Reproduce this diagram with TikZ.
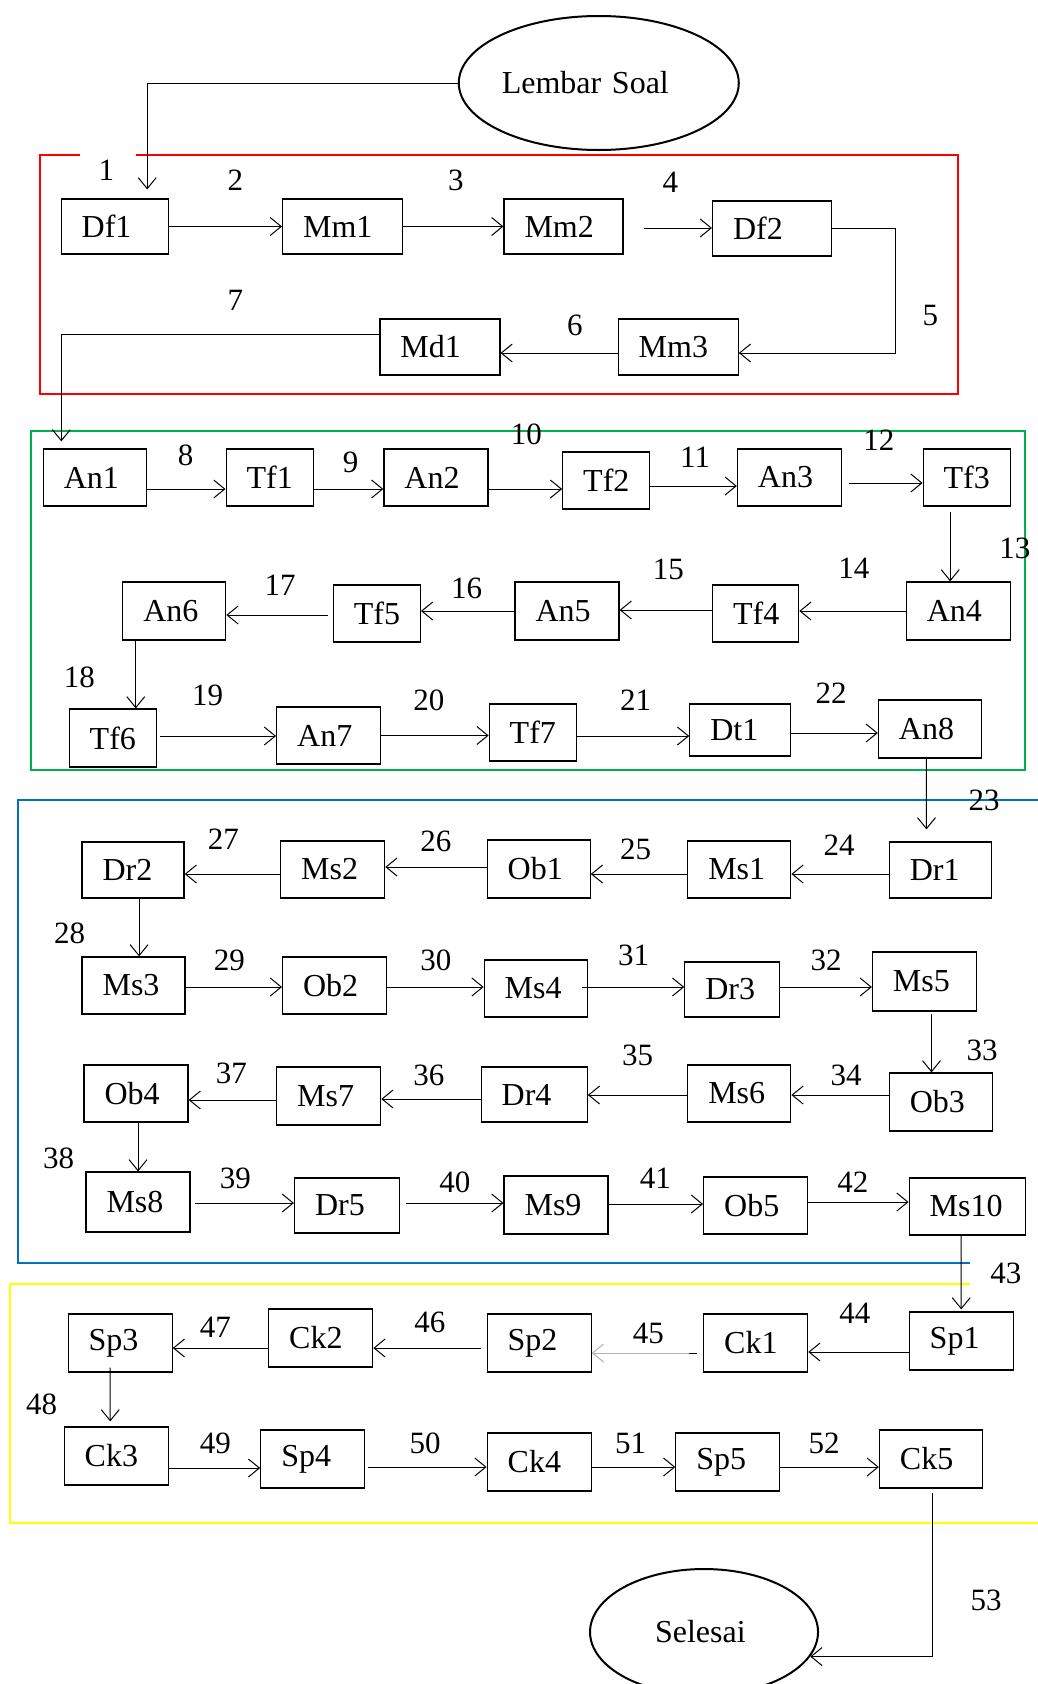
\documentclass[tikz,border=0pt]{standalone}
\usepackage{fontspec}
\setmainfont{Liberation Serif}
\usetikzlibrary{arrows.meta,shapes.geometric,calc}
\definecolor{framered}{RGB}{255,0,0}
\definecolor{framegreen}{RGB}{0,176,80}
\definecolor{frameblue}{RGB}{0,112,192}
\definecolor{frameyellow}{RGB}{255,255,0}
\begin{document}
\begin{tikzpicture}[x=0.993pt,y=-1pt,
  bx/.style={draw, line width=1.2pt, inner ysep=0pt, inner xsep=20.5pt, align=left,
             font=\fontsize{32}{34}\selectfont},
  bw/.style={minimum width=#1pt, text width=\the\dimexpr#1pt-41pt\relax},
  lb/.style={inner sep=0pt, font=\fontsize{31}{33}\selectfont},
  arr/.style={line width=1pt, -{Straight Barb[length=11pt,width=18pt,line width=1pt]}},
  garr/.style={arr, draw=gray!60},
  ell/.style={draw, ellipse, line width=2pt, inner sep=0pt, align=left,
              font=\fontsize{32}{34}\selectfont},
  frame/.style={line width=2pt}
]
\useasboundingbox (0pt,0pt) rectangle (1038pt,-1684pt);

% frames
\draw[frame, framered] (81,155) -- (40,155) -- (40,394) -- (965,394) -- (965,155) -- (137,155);
\draw[frame, framegreen] (31,431) rectangle (1032,770);
\draw[frame, frameblue] (1055,800) -- (18,800) -- (18,1263) -- (977,1263);
\draw[frame, frameyellow] (977,1284) -- (10,1284) -- (10,1523) -- (1055,1523);

% ellipses
\node[ell, minimum width=280pt, minimum height=134pt, text width=194pt] (LS) at (603,83) {Lembar Soal};
\node[ell, minimum width=228pt, minimum height=126pt, text width=98pt] (Sel) at (709,1632) {Selesai};

% red group
\node[bx, bw=107, minimum height=55pt] (Df1) at (115.5,226.5) {Df1};
\node[bx, bw=120, minimum height=55pt] (Mm1) at (345,226.5) {Mm1};
\node[bx, bw=119, minimum height=55pt] (Mm2) at (567.5,226.5) {Mm2};
\node[bx, bw=119, minimum height=55pt] (Df2) at (777.5,228.5) {Df2};
\node[bx, bw=120, minimum height=56pt] (Mm3) at (683,347) {Mm3};
\node[bx, bw=120, minimum height=56pt] (Md1) at (443,347) {Md1};

% green group
\node[bx, bw=103, minimum height=57pt] (An1) at (95.5,477.5) {An1};
\node[bx, bw=87, minimum height=57pt] (Tf1) at (271.5,477.5) {Tf1};
\node[bx, bw=104, minimum height=57pt] (An2) at (439,477.5) {An2};
\node[bx, bw=87, minimum height=57pt] (Tf2) at (610.5,480.5) {Tf2};
\node[bx, bw=104, minimum height=57pt] (An3) at (795,477.5) {An3};
\node[bx, bw=87, minimum height=57pt] (Tf3) at (973.5,477.5) {Tf3};
\node[bx, bw=104, minimum height=58pt] (An4) at (965,611) {An4};
\node[bx, bw=86, minimum height=57pt] (Tf4) at (761,613.5) {Tf4};
\node[bx, bw=104, minimum height=58pt] (An5) at (571,611) {An5};
\node[bx, bw=87, minimum height=57pt] (Tf5) at (379.5,613.5) {Tf5};
\node[bx, bw=103, minimum height=58pt] (An6) at (175.5,611) {An6};
\node[bx, bw=87, minimum height=58pt] (Tf6) at (113.5,738) {Tf6};
\node[bx, bw=104, minimum height=57pt] (An7) at (331,735.5) {An7};
\node[bx, bw=87, minimum height=57pt] (Tf7) at (536.5,732.5) {Tf7};
\node[bx, bw=101, minimum height=52pt] (Dt1) at (745.5,730) {Dt1};
\node[bx, bw=103, minimum height=58pt] (An8) at (936.5,729) {An8};

% blue group
\node[bx, bw=102, minimum height=56pt] (Dr1) at (947,870) {Dr1};
\node[bx, bw=103, minimum height=57pt] (Ms1) at (744.5,869.5) {Ms1};
\node[bx, bw=103, minimum height=58pt] (Ob1) at (542.5,869) {Ob1};
\node[bx, bw=104, minimum height=57pt] (Ms2) at (335,869.5) {Ms2};
\node[bx, bw=102, minimum height=56pt] (Dr2) at (134,870) {Dr2};
\node[bx, bw=103, minimum height=57pt] (Ms3) at (134.5,985.5) {Ms3};
\node[bx, bw=104, minimum height=57pt] (Ob2) at (337,985.5) {Ob2};
\node[bx, bw=103, minimum height=57pt] (Ms4) at (539.5,988.5) {Ms4};
\node[bx, bw=95, minimum height=55pt] (Dr3) at (737.5,989.5) {Dr3};
\node[bx, bw=104, minimum height=59pt] (Ms5) at (931,981.5) {Ms5};
\node[bx, bw=103, minimum height=58pt] (Ob3) at (947.5,1102) {Ob3};
\node[bx, bw=103, minimum height=57pt] (Ms6) at (744.5,1093.5) {Ms6};
\node[bx, bw=106, minimum height=55pt] (Dr4) at (538,1094.5) {Dr4};
\node[bx, bw=104, minimum height=58pt] (Ms7) at (331,1096) {Ms7};
\node[bx, bw=104, minimum height=57pt] (Ob4) at (137,1093.5) {Ob4};
\node[bx, bw=104, minimum height=60pt] (Ms8) at (139,1202) {Ms8};
\node[bx, bw=105, minimum height=55pt] (Dr5) at (349.5,1205.5) {Dr5};
\node[bx, bw=104, minimum height=58pt] (Ms9) at (560,1205) {Ms9};
\node[bx, bw=104, minimum height=57pt] (Ob5) at (761,1205.5) {Ob5};
\node[bx, bw=116, minimum height=57pt] (Ms10) at (974,1206.5) {Ms10};

% yellow group
\node[bx, bw=104, minimum height=58pt] (Sp1) at (968,1341) {Sp1};
\node[bx, bw=104, minimum height=58pt] (Ck1) at (761,1343) {Ck1};
\node[bx, bw=104, minimum height=58pt] (Sp2) at (543,1343) {Sp2};
\node[bx, bw=104, minimum height=58pt] (Ck2) at (323,1338) {Ck2};
\node[bx, bw=104, minimum height=58pt] (Sp3) at (121,1343) {Sp3};
\node[bx, bw=104, minimum height=58pt] (Ck3) at (117,1456) {Ck3};
\node[bx, bw=104, minimum height=58pt] (Sp4) at (315,1459) {Sp4};
\node[bx, bw=104, minimum height=58pt] (Ck4) at (543,1462) {Ck4};
\node[bx, bw=104, minimum height=58pt] (Sp5) at (733,1462) {Sp5};
\node[bx, bw=103, minimum height=58pt] (Ck5) at (937.5,1459) {Ck5};

% labels
\node[lb] (n1) at (107,170) {1};
\node[lb] (n2) at (237,180) {2};
\node[lb] (n3) at (459,180) {3};
\node[lb] (n4) at (675,182) {4};
\node[lb] (n5) at (937,315) {5};
\node[lb] (n6) at (579,325) {6};
\node[lb] (n7) at (237,300) {7};
\node[lb] (n8) at (187,455) {8};
\node[lb] (n9) at (353,462) {9};
\node[lb] (n10) at (530,434) {10};
\node[lb] (n11) at (700,457) {11};
\node[lb] (n12) at (885,440) {12};
\node[lb] (n13) at (1022,548) {13};
\node[lb] (n14) at (860,568) {14};
\node[lb] (n15) at (673,569) {15};
\node[lb] (n16) at (470,588) {16};
\node[lb] (n17) at (282,585) {17};
\node[lb] (n18) at (80,677) {18};
\node[lb] (n19) at (209,695) {19};
\node[lb] (n20) at (432,700) {20};
\node[lb] (n21) at (640,700) {21};
\node[lb] (n22) at (837,693) {22};
\node[lb] (n23) at (991,800) {23};
\node[lb] (n24) at (845,845) {24};
\node[lb] (n25) at (640,849) {25};
\node[lb] (n26) at (439,841) {26};
\node[lb] (n27) at (225,839) {27};
\node[lb] (n28) at (70,933) {28};
\node[lb] (n29) at (231,960) {29};
\node[lb] (n30) at (439,960) {30};
\node[lb] (n31) at (638,955) {31};
\node[lb] (n32) at (832,960) {32};
\node[lb] (n33) at (989,1050) {33};
\node[lb] (n34) at (852,1075) {34};
\node[lb] (n35) at (642,1055) {35};
\node[lb] (n36) at (432,1075) {36};
\node[lb] (n37) at (233,1073) {37};
\node[lb] (n38) at (59,1158) {38};
\node[lb] (n39) at (237,1178) {39};
\node[lb] (n40) at (458,1182) {40};
\node[lb] (n41) at (660,1178) {41};
\node[lb] (n42) at (859,1182) {42};
\node[lb] (n43) at (1013,1273) {43};
\node[lb] (n44) at (861,1313) {44};
\node[lb] (n45) at (653,1333) {45};
\node[lb] (n46) at (433,1322) {46};
\node[lb] (n47) at (217,1327) {47};
\node[lb] (n48) at (42,1404) {48};
\node[lb] (n49) at (217,1443) {49};
\node[lb] (n50) at (428,1443) {50};
\node[lb] (n51) at (635,1443) {51};
\node[lb] (n52) at (830,1443) {52};
\node[lb] (n53) at (993,1600) {53};

% connectors: red
\draw[arr] (LS.west) -| ([xshift=32.5pt,yshift=9pt]Df1.north);
\draw[arr] (Df1.east) -- (Df1.east -| Mm1.west);
\draw[arr] (Mm1.east) -- (Mm1.east -| Mm2.west);
\draw[arr] ([xshift=20pt,yshift=-1.5pt]Mm2.east) -- ([yshift=-1.5pt]Mm2.east -| Df2.west);
\draw[arr] (Df2.east) -- ++(64,0) |- ([yshift=-6pt]Mm3.east);
\draw[arr] ([yshift=-6pt]Mm3.west) -- ([yshift=-6pt]Mm3.west -| Md1.east);
\draw[arr] ([yshift=13pt]Md1.west) -| ([xshift=-33.5pt,yshift=7pt]An1.north);

% green
\draw[arr] ([yshift=-11.5pt]An1.east) -- ([yshift=-11.5pt]An1.east -| Tf1.west);
\draw[arr] ([yshift=-11.5pt]Tf1.east) -- ([yshift=-11.5pt]Tf1.east -| An2.west);
\draw[arr] ([yshift=-11.5pt]An2.east) -- ([yshift=-11.5pt]An2.east -| Tf2.west);
\draw[arr] ([yshift=-5.5pt]Tf2.east) -- ([yshift=-5.5pt]Tf2.east -| An3.west);
\draw[arr] ([xshift=7pt,yshift=-5.5pt]An3.east) -- ([yshift=-5.5pt]An3.east -| Tf3.west);
\draw[arr] ([xshift=-16.5pt,yshift=-5pt]Tf3.south) -- ([xshift=-16.5pt]Tf3.south |- An4.north);
\draw[arr] (An4.west) -- (An4.west -| Tf4.east);
\draw[arr] ([yshift=3.5pt]Tf4.west) -- ([yshift=3.5pt]Tf4.west -| An5.east);
\draw[arr] (An5.west) -- (An5.west -| Tf5.east);
\draw[arr] ([xshift=-5pt,yshift=-1.5pt]Tf5.west) -- ([yshift=-1.5pt]Tf5.west -| An6.east);
\draw[arr] ([xshift=-38.5pt]An6.south) -- ([xshift=-38.5pt]An6.south |- Tf6.north);
\draw[arr] ([xshift=3pt,yshift=2pt]Tf6.east) -- ([yshift=2pt]Tf6.east -| An7.west);
\draw[arr] (An7.east) -- (An7.east -| Tf7.west);
\draw[arr] ([yshift=-3.5pt]Tf7.east) -- ([yshift=-3.5pt]Tf7.east -| Dt1.west);
\draw[arr] ([yshift=-3pt]Dt1.east) -- ([yshift=-3pt]Dt1.east -| An8.west);
\draw[arr] ([xshift=-3.5pt]An8.south) -- ($(An8.south |- Dr1.north)+(-3.5,-12)$);

% blue
\draw[arr] ([yshift=-4pt]Dr1.west) -- ([yshift=-4pt]Dr1.west -| Ms1.east);
\draw[arr] ([yshift=-4.5pt]Ms1.west) -- ([yshift=-4.5pt]Ms1.west -| Ob1.east);
\draw[arr] ([yshift=2pt]Ob1.west) -- ([yshift=2pt]Ob1.west -| Ms2.east);
\draw[arr] ([yshift=-4.5pt]Ms2.west) -- ([yshift=-4.5pt]Ms2.west -| Dr2.east);
\draw[arr] ([xshift=6pt]Dr2.south) -- ([xshift=6pt]Dr2.south |- Ms3.north);
\draw[arr] ([yshift=-1.5pt]Ms3.east) -- ([yshift=-1.5pt]Ms3.east -| Ob2.west);
\draw[arr] ([yshift=-1.5pt]Ob2.east) -- ([yshift=-1.5pt]Ob2.east -| Ms4.west);
\draw[arr] ([xshift=-6pt,yshift=1.5pt]Ms4.east) -- ([yshift=1.5pt]Ms4.east -| Dr3.west);
\draw[arr] ([yshift=2.5pt]Dr3.east) -- ([yshift=2.5pt]Dr3.east -| Ms5.west);
\draw[arr] ([xshift=7pt,yshift=-2pt]Ms5.south) -- ([xshift=7pt]Ms5.south |- Ob3.north);
\draw[arr] ([yshift=7pt]Ob3.west) -- ([yshift=7pt]Ob3.west -| Ms6.east);
\draw[arr] ([yshift=-1.5pt]Ms6.west) -- ([yshift=-1.5pt]Ms6.west -| Dr4.east);
\draw[arr] ([yshift=-4.5pt]Dr4.west) -- ([yshift=-4.5pt]Dr4.west -| Ms7.east);
\draw[arr] ([yshift=-4pt]Ms7.west) -- ([yshift=-4pt]Ms7.west -| Ob4.east);
\draw[arr] ([xshift=2pt]Ob4.south) -- ([xshift=2pt]Ob4.south |- Ms8.north);
\draw[arr] ([xshift=4pt,yshift=-1pt]Ms8.east) -- ([yshift=-1pt]Ms8.east -| Dr5.west);
\draw[arr] ([xshift=6pt,yshift=2.5pt]Dr5.east) -- ([yshift=2.5pt]Dr5.east -| Ms9.west);
\draw[arr] ([yshift=1pt]Ms9.east) -- ([yshift=1pt]Ms9.east -| Ob5.west);
\draw[arr] ([yshift=3.5pt]Ob5.east) -- ([yshift=3.5pt]Ob5.east -| Ms10.west);
\draw[arr] ([xshift=-6pt]Ms10.south) -- ($(Ms10.south |- Sp1.north)+(-6,-2)$);

% yellow
\draw[arr] ([yshift=-11pt]Sp1.west) -- ([yshift=-11pt]Sp1.west -| Ck1.east);
\draw[line width=1pt] ([xshift=-14pt,yshift=-10pt]Ck1.west) -- ([xshift=-6pt,yshift=-10pt]Ck1.west);
\draw[garr] ([xshift=-14pt,yshift=-10pt]Ck1.west) -- ([yshift=-10pt]Ck1.west -| Sp2.east);
\draw[arr] ([xshift=-6pt,yshift=-5pt]Sp2.west) -- ([yshift=-5pt]Sp2.west -| Ck2.east);
\draw[arr] ([yshift=-10pt]Ck2.west) -- ([yshift=-10pt]Ck2.west -| Sp3.east);
\draw[arr] ([xshift=-10pt,yshift=5pt]Sp3.south) -- ($(Sp3.south |- Ck3.north)+(-10,-5)$);
\draw[arr] ([yshift=-12pt]Ck3.east) -- ([yshift=-12pt]Ck3.east -| Sp4.west);
\draw[arr] ([xshift=3pt,yshift=-8pt]Sp4.east) -- ([yshift=-8pt]Sp4.east -| Ck4.west);
\draw[arr] ([yshift=-5pt]Ck4.east) -- ([yshift=-5pt]Ck4.east -| Sp5.west);
\draw[arr] ([yshift=-5pt]Sp5.east) -- ([yshift=-5pt]Sp5.east -| Ck5.west);
\draw[arr] ([xshift=1.5pt,yshift=-4pt]Ck5.south) |- (Sel.-13.4);
\end{tikzpicture}
\end{document}
